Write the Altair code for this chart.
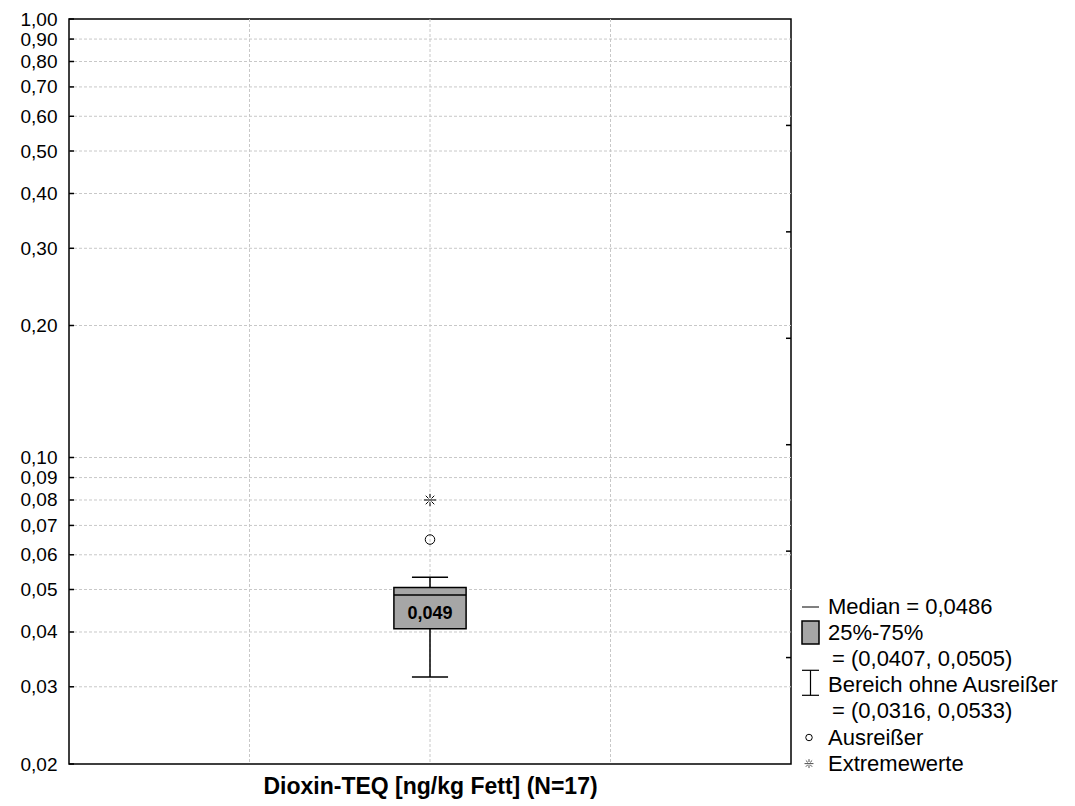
import altair as alt
import pandas as pd

# ---------------- data ----------------
variable_label = ["Dioxin-TEQ [ng/kg Fett] (N=17)"]
box_pos = [2.0]
q1 = [0.0407]
median = [0.0486]
q3 = [0.0505]
whisker_lo = [0.0316]
whisker_hi = [0.0533]
outliers = [0.065]
extremes = [0.080]

y_tick_values = [0.02, 0.03, 0.04, 0.05, 0.06, 0.07, 0.08, 0.09, 0.10,
                 0.20, 0.30, 0.40, 0.50, 0.60, 0.70, 0.80, 0.90, 1.00]
y_grid_values = [0.03, 0.04, 0.05, 0.06, 0.07, 0.08, 0.09, 0.10,
                 0.20, 0.30, 0.40, 0.50, 0.60, 0.70, 0.80, 0.90]
x_grid_values = [1, 2, 3]
right_minor_ticks = [1, 2, 3, 4, 5, 6]
legend_labels = ["Median = 0,0486", "25%-75%", "= (0,0407, 0,0505)",
                 "Bereich ohne Ausreißer", "= (0,0316, 0,0533)",
                 "Ausreißer", "Extremewerte"]

# ---------------- layout ----------------
W, H = 722, 745
FONT = "Liberation Sans"

df_box = pd.DataFrame({"pos": box_pos, "q1": q1, "median": median, "q3": q3,
                       "wlo": whisker_lo, "whi": whisker_hi})
df_out = pd.DataFrame({"pos": box_pos * len(outliers), "v": outliers})
df_ext = pd.DataFrame({"pos": box_pos * len(extremes), "v": extremes})
one = pd.DataFrame({"d": [0]})

xs = alt.Scale(domain=[0, 4], nice=False, zero=False)
ys = alt.Scale(type="log", domain=[0.02, 1.0], nice=False)

x_axis = alt.Axis(title=variable_label[0], labels=False, ticks=False, grid=False,
                  domain=False, titleFont=FONT, titleFontSize=23,
                  titleFontWeight="bold", titleColor="black", titlePadding=11)
y_axis = alt.Axis(title=None, values=y_tick_values, grid=False, ticks=False,
                  domain=False, labelFont=FONT, labelFontSize=19,
                  labelColor="black", labelPadding=12, labelOverlap=False,
                  labelFlush=False,
                  labelExpr="replace(format(datum.value, '.2f'), '.', ',')")

grid_color = "#c8c8c8"

hgrid = alt.Chart(pd.DataFrame({"v": y_grid_values})).mark_rule(
    color=grid_color, strokeDash=[3, 2], strokeWidth=1
).encode(
    y=alt.Y("v:Q", scale=ys, axis=y_axis),
    x=alt.value(0), x2=alt.value(W),
)

vgrid = alt.Chart(pd.DataFrame({"g": x_grid_values})).mark_rule(
    color=grid_color, strokeDash=[3, 2], strokeWidth=1
).encode(
    x=alt.X("g:Q", scale=xs, axis=x_axis),
    y=alt.value(0), y2=alt.value(H),
)

left_ticks = alt.Chart(pd.DataFrame({"v": y_tick_values})).mark_rule(
    color="black", strokeWidth=1.5
).encode(
    y=alt.Y("v:Q", scale=ys),
    x=alt.value(0), x2=alt.value(5),
)

whisker = alt.Chart(df_box).mark_rule(color="black", strokeWidth=1.5).encode(
    x=alt.X("pos:Q", scale=xs), y=alt.Y("wlo:Q", scale=ys), y2="whi:Q"
)

caps_lo = alt.Chart(df_box).transform_calculate(
    a="datum.pos - 0.1", b="datum.pos + 0.1"
).mark_rule(color="black", strokeWidth=1.5).encode(
    x=alt.X("a:Q", scale=xs), x2="b:Q", y=alt.Y("wlo:Q", scale=ys)
)
caps_hi = alt.Chart(df_box).transform_calculate(
    a="datum.pos - 0.1", b="datum.pos + 0.1"
).mark_rule(color="black", strokeWidth=1.5).encode(
    x=alt.X("a:Q", scale=xs), x2="b:Q", y=alt.Y("whi:Q", scale=ys)
)

box = alt.Chart(df_box).transform_calculate(
    a="datum.pos - 0.2", b="datum.pos + 0.2"
).mark_rect(fill="#a6a6a6", stroke="black", strokeWidth=1.5).encode(
    x=alt.X("a:Q", scale=xs), x2="b:Q", y=alt.Y("q1:Q", scale=ys), y2="q3:Q"
)

med = alt.Chart(df_box).transform_calculate(
    a="datum.pos - 0.2", b="datum.pos + 0.2"
).mark_rule(color="black", strokeWidth=1.5).encode(
    x=alt.X("a:Q", scale=xs), x2="b:Q", y=alt.Y("median:Q", scale=ys)
)

med_label = alt.Chart(df_box).transform_calculate(
    ly="sqrt(datum.median * datum.q1)",
    lab="replace(format(datum.median, '.3f'), '.', ',')"
).mark_text(font=FONT, fontSize=18, fontWeight="bold", color="black",
            baseline="middle", align="center", dy=2).encode(
    x=alt.X("pos:Q", scale=xs), y=alt.Y("ly:Q", scale=ys), text="lab:N"
)

out_pts = alt.Chart(df_out).mark_point(
    shape="circle", filled=False, size=90, color="black", strokeWidth=1, opacity=1
).encode(x=alt.X("pos:Q", scale=xs), y=alt.Y("v:Q", scale=ys))

STAR = "M-1,0L1,0M0,-1L0,-0.35M0,0.35L0,1M-0.7,-0.7L-0.25,-0.25M0.25,0.25L0.7,0.7M-0.7,0.7L-0.25,0.25M0.25,-0.25L0.7,-0.7"
ext_pts = alt.Chart(df_ext).mark_point(
    shape=STAR, filled=False, size=150, color="black", strokeWidth=1, opacity=1
).encode(x=alt.X("pos:Q", scale=xs), y=alt.Y("v:Q", scale=ys))

# ---------------- legend (decoration) ----------------
LX0, LX1 = 733, 750
TX = 759
row_y = [588 + i * 26.1 for i in range(len(legend_labels))]
legend_layers = []
for i, lab in enumerate(legend_labels):
    tx = TX + 4 if lab.startswith("=") else TX
    legend_layers.append(
        alt.Chart(pd.DataFrame({"t": [lab]})).mark_text(
            font=FONT, fontSize=22, color="black", align="left", baseline="middle"
        ).encode(text="t:N", x=alt.value(tx), y=alt.value(row_y[i]))
    )

leg_med = alt.Chart(one).mark_rule(color="black", strokeWidth=1).encode(
    x=alt.value(LX0), x2=alt.value(LX1), y=alt.value(row_y[0]))
leg_box = alt.Chart(one).mark_rect(fill="#a6a6a6", stroke="black", strokeWidth=1.5).encode(
    x=alt.value(LX0), x2=alt.value(LX1), y=alt.value(row_y[1] - 12), y2=alt.value(row_y[1] + 11))
leg_ibar = alt.Chart(one).mark_rule(color="black", strokeWidth=1.2).encode(
    x=alt.value((LX0 + LX1) / 2), y=alt.value(row_y[3] - 15), y2=alt.value(row_y[3] + 10))
leg_icap1 = alt.Chart(one).mark_rule(color="black", strokeWidth=1.2).encode(
    x=alt.value(LX0), x2=alt.value(LX1), y=alt.value(row_y[3] - 15))
leg_icap2 = alt.Chart(one).mark_rule(color="black", strokeWidth=1.2).encode(
    x=alt.value(LX0), x2=alt.value(LX1), y=alt.value(row_y[3] + 10))
leg_circ = alt.Chart(one).mark_point(
    shape="circle", filled=False, size=42, color="black", strokeWidth=1, opacity=1
).encode(x=alt.value(740), y=alt.value(row_y[5]))
leg_star = alt.Chart(one).mark_point(
    shape=STAR, filled=False, size=80, color="black", strokeWidth=0.7, opacity=1
).encode(x=alt.value(740), y=alt.value(row_y[6]))

main = alt.layer(
    hgrid, vgrid, left_ticks, whisker, caps_lo, caps_hi, box, med, med_label,
    out_pts, ext_pts, leg_med, leg_box, leg_ibar, leg_icap1, leg_icap2,
    leg_circ, leg_star, *legend_layers
)

right_ticks = alt.Chart(pd.DataFrame({"k": right_minor_ticks})).mark_rule(
    color="black", strokeWidth=1.5
).encode(
    y=alt.Y("k:Q", scale=alt.Scale(domain=[0, 7], nice=False, zero=False), axis=None),
    x=alt.value(W - 5), x2=alt.value(W),
)

chart = alt.layer(main, right_ticks).resolve_scale(y="independent").properties(
    width=W, height=H,
    padding={"left": 61, "top": 11, "right": 276, "bottom": 40},
    autosize=alt.AutoSizeParams(type="none"),
    background="white",
).configure_view(stroke="black", strokeWidth=1.5)

chart.save("out.html", embed_options={"renderer": "svg", "actions": False})
